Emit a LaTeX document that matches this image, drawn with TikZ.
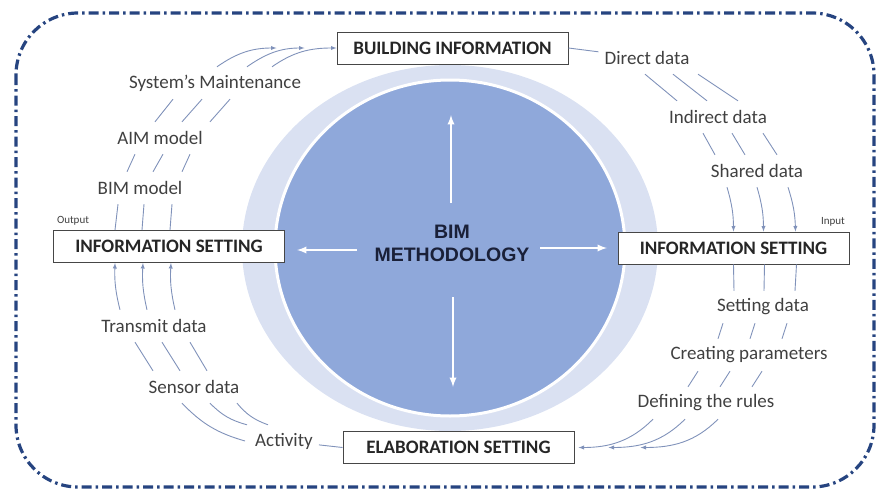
\documentclass[tikz,border=0pt]{standalone}
\usepackage{fontspec}
\setmainfont{Carlito}
\newfontfamily\bimfont{Liberation Sans}
\usepackage{tikz}
\definecolor{framec}{RGB}{38,68,128}
\definecolor{ringc}{RGB}{218,225,242}
\definecolor{corec}{RGB}{143,168,218}
\definecolor{flowc}{RGB}{128,146,186}
\definecolor{txtc}{RGB}{64,64,64}
\definecolor{boxc}{RGB}{70,70,70}
\definecolor{bimc}{RGB}{26,32,56}

\begin{document}
\begin{tikzpicture}[x=1pt, y=-1pt,
  box/.style={draw=boxc, line width=1pt, fill=white, minimum width=231pt, minimum height=32pt, inner sep=0pt, font=\fontsize{19}{22}\selectfont\bfseries, text=black!85},
  lbl/.style={minimum height=32pt, inner xsep=6pt, inner ysep=0pt, font=\fontsize{19}{22}\selectfont, text=txtc},
  tiny/.style={font=\fontsize{11}{12}\selectfont, text=txtc},
  seg/.style={draw=flowc, line width=0.9pt},
  flow/.style={seg, ->, >=latex},
  spoke/.style={draw=white, line width=2.2pt, ->, >=latex}]
\useasboundingbox (0,0) rectangle (879,493);
\draw[framec, line width=3.2pt, rounded corners=62pt, dash pattern=on 10pt off 4pt on 2.5pt off 4pt] (16,13) rectangle (874,487);
\fill[ringc] (450,248) ellipse [x radius=208pt, y radius=183pt];
\filldraw[fill=corec, draw=white, line width=3pt] (450,248) ellipse [x radius=175pt, y radius=168pt];
\node[font=\bimfont\fontsize{19.5}{23}\selectfont\bfseries, text=bimc, align=center] (meth) at (452,243) {BIM\\METHODOLOGY};
\coordinate (tipn) at (451,115);
\coordinate (tips) at (453,387);
\coordinate (tipw) at (297,250);
\coordinate (tipe) at (607,248);
\draw[spoke] (451,203) -- (tipn);
\draw[spoke] (453,297) -- (tips);
\draw[spoke] (357,250) -- (tipw);
\draw[spoke] (540,248) -- (tipe);
\node[box] (bldg) at (452.5,48) {BUILDING INFORMATION};
\node[box] (lset) at (169,246.5) {INFORMATION SETTING};
\node[box] (rset) at (733.5,248) {INFORMATION SETTING};
\node[box] (elab) at (458.5,447.5) {ELABORATION SETTING};
\node[tiny] (outp) at (73,221) {Output};
\node[tiny] (inp) at (833,222) {Input};
\node[lbl] (sysm) at (215,83) {System's Maintenance};
\node[lbl] (aim) at (160,138) {AIM model};
\node[lbl] (bimm) at (140,188) {BIM model};
\node[lbl] (direct) at (647,58) {Direct data};
\node[lbl] (indir) at (718,117) {Indirect data};
\node[lbl] (shared) at (757,171) {Shared data};
\node[lbl] (setd) at (763,307) {Setting data};
\node[lbl] (creat) at (749,355) {Creating parameters};
\node[lbl] (defr) at (706,403) {Defining the rules};
\node[lbl] (trans) at (154,326) {Transmit data};
\node[lbl] (sens) at (194,387) {Sensor data};
\node[lbl] (activ) at (284,441) {Activity};
\draw[seg] ([xshift=-54pt]lset.north) -- ([xshift=-22pt]bimm.south);
\draw[seg] ([xshift=-27pt]lset.north) -- ([xshift=4pt]bimm.south);
\draw[seg] ([xshift=1pt]lset.north) -- ([xshift=32pt]bimm.south);
\draw[seg] ([xshift=-13pt]bimm.north) -- ([xshift=-25pt]aim.south);
\draw[seg] ([xshift=13pt]bimm.north) -- ([xshift=3pt]aim.south);
\draw[seg] ([xshift=42pt]bimm.north) -- ([xshift=30pt]aim.south);
\draw[seg] ([xshift=-5pt]aim.north) -- ([xshift=-42pt]sysm.south);
\draw[seg] ([xshift=22pt]aim.north) -- ([xshift=-13pt]sysm.south);
\draw[seg] ([xshift=50pt]aim.north) -- ([xshift=15pt]sysm.south);
\draw[flow] ([xshift=2pt]sysm.north) to[out=35, in=180] ([xshift=-60pt]bldg.west);
\draw[flow] ([xshift=32pt]sysm.north) to[out=35, in=180] ([xshift=-32pt]bldg.west);
\draw[flow] ([xshift=57pt]sysm.north) to[out=35, in=180] (bldg.west);
\draw[seg] (bldg.east) -- (direct);
\draw[seg] ([xshift=-2pt]direct.south) -- ([xshift=-41pt]indir.north);
\draw[seg] ([xshift=26pt]direct.south) -- ([xshift=-11pt]indir.north);
\draw[seg] ([xshift=51pt]direct.south) -- ([xshift=20pt]indir.north);
\draw[seg] ([xshift=-15pt]indir.south) -- ([xshift=-42pt]shared.north);
\draw[seg] ([xshift=14pt]indir.south) -- ([xshift=-12pt]shared.north);
\draw[seg] ([xshift=45pt]indir.south) -- ([xshift=20pt]shared.north);
\draw[flow] ([xshift=-30pt]shared.south) to[bend left=8] (rset.north);
\draw[flow] (shared.south) to[bend left=8] ([xshift=30pt]rset.north);
\draw[flow] ([xshift=31pt]shared.south) to[bend left=8] ([xshift=62pt]rset.north);
\draw[seg] (rset.south) -- ([xshift=-29pt]setd.north);
\draw[seg] ([xshift=31pt]rset.south) -- ([xshift=1pt]setd.north);
\draw[seg] ([xshift=63pt]rset.south) -- ([xshift=32pt]setd.north);
\draw[seg] ([xshift=-40pt]setd.south) -- ([xshift=-31pt]creat.north);
\draw[seg] ([xshift=-8pt]setd.south) -- ([xshift=1pt]creat.north);
\draw[seg] ([xshift=24pt]setd.south) -- ([xshift=33pt]creat.north);
\draw[seg] ([xshift=-51pt]creat.south) -- ([xshift=-18pt]defr.north);
\draw[seg] ([xshift=-19pt]creat.south) -- ([xshift=14pt]defr.north);
\draw[seg] ([xshift=13pt]creat.south) -- ([xshift=46pt]defr.north);
\draw[flow] ([xshift=-53pt]defr.south) to[out=225, in=0] ([xshift=4pt]elab.east);
\draw[flow] ([xshift=-21pt]defr.south) to[out=225, in=0] ([xshift=34pt]elab.east);
\draw[flow] ([xshift=12pt]defr.south) to[out=225, in=0] ([xshift=66pt]elab.east);
\draw[seg] (elab.west) -- (activ);
\draw[seg] ([xshift=-12pt]sens.south) to[bend right=15] ([xshift=-4pt]activ.west);
\draw[seg] ([xshift=16pt]sens.south) to[bend right=15] ([xshift=-37pt]activ.north);
\draw[seg] ([xshift=43pt]sens.south) to[bend right=15] ([xshift=-16pt]activ.north);
\draw[seg] ([xshift=-41pt]sens.north) -- ([xshift=-19pt]trans.south);
\draw[seg] ([xshift=-14pt]sens.north) -- ([xshift=8pt]trans.south);
\draw[seg] ([xshift=13pt]sens.north) -- ([xshift=36pt]trans.south);
\draw[flow] ([xshift=-34pt]trans.north) to[bend left=8] ([xshift=-54pt]lset.south);
\draw[flow] ([xshift=-7pt]trans.north) to[bend left=8] ([xshift=-26pt]lset.south);
\draw[flow] ([xshift=21pt]trans.north) to[bend left=8] ([xshift=2pt]lset.south);
\end{tikzpicture}
\end{document}
